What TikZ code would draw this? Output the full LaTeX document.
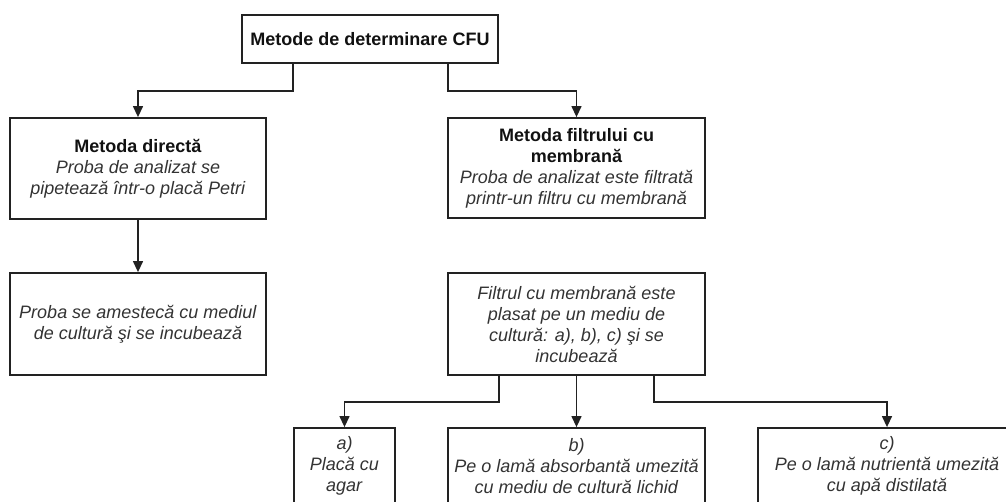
\documentclass[tikz,border=0pt]{standalone}
\usepackage{fontspec}
\setmainfont{Liberation Sans}
\usetikzlibrary{arrows.meta}
\definecolor{txt}{HTML}{333333}
\definecolor{ttl}{HTML}{111111}
\definecolor{ln}{HTML}{222222}
\begin{document}
\begin{tikzpicture}[x=1pt,y=-1pt,
  box/.style={draw=ln, line width=1.8pt, rectangle, inner sep=0pt, align=center,
              text=txt, font=\fontsize{18}{21}\selectfont},
  conn/.style={draw=ln, line width=1.3pt},
  arr/.style={conn, -{Triangle[length=11pt,width=10pt]}}]
\useasboundingbox (0,0) rectangle (1006,502);
\clip (0,0) rectangle (1006,502);

\node[box, minimum width=256pt, minimum height=48pt] (top) at (370,39)
  {\textcolor{ttl}{\bfseries Metode de determinare CFU}};

\node[box, minimum width=256pt, minimum height=101pt] (L1) at (138,168.5)
  {\textcolor{ttl}{\bfseries Metoda directă}\\
   \textit{Proba de analizat se}\\
   \textit{pipetează într-o placă Petri}};

\node[box, minimum width=257pt, minimum height=100pt] (R1) at (576.5,168)
  {\textcolor{ttl}{\bfseries Metoda filtrului cu}\\
   \textcolor{ttl}{\bfseries membrană}\\
   \textit{Proba de analizat este filtrată}\\
   \textit{printr-un filtru cu membrană}};

\node[box, minimum width=256pt, minimum height=102pt] (L2) at (138,324)
  {\textit{Proba se amestecă cu mediul}\\
   \textit{de cultură şi se incubează}};

\node[box, minimum width=257pt, minimum height=102pt] (R2) at (576.5,324)
  {\textit{Filtrul cu membrană este}\\
   \textit{plasat pe un mediu de}\\
   \textit{cultură: a), b), c) şi se}\\
   \textit{incubează}};

\node[box, minimum width=101pt, minimum height=76pt] (boxa) at (344.5,466)
  {\textit{a)}\\ \textit{Placă cu}\\ \textit{agar}};

\node[box, minimum width=257pt, minimum height=76pt] (boxb) at (576.5,466)
  {\textit{b)}\\ \textit{Pe o lamă absorbantă umezită}\\ \textit{cu mediu de cultură lichid}};

\node[box, minimum width=258pt, minimum height=76pt] (boxc) at (887,466)
  {\textit{c)}\\ \textit{Pe o lamă nutrientă umezită}\\ \textit{cu apă distilată}};

\draw[arr] ([xshift=-77pt]top.south) -- ++(0,27) -| (L1.north);
\draw[arr] ([xshift=78pt]top.south) -- ++(0,27) -| (R1.north);
\draw[arr] (L1.south) -- (L2.north);
\draw[arr] ([xshift=-77.5pt]R2.south) -- ++(0,26) -| (boxa.north);
\draw[arr] (R2.south) -- (boxb.north);
\draw[arr] ([xshift=77.5pt]R2.south) -- ++(0,26) -| (boxc.north);
\end{tikzpicture}
\end{document}
